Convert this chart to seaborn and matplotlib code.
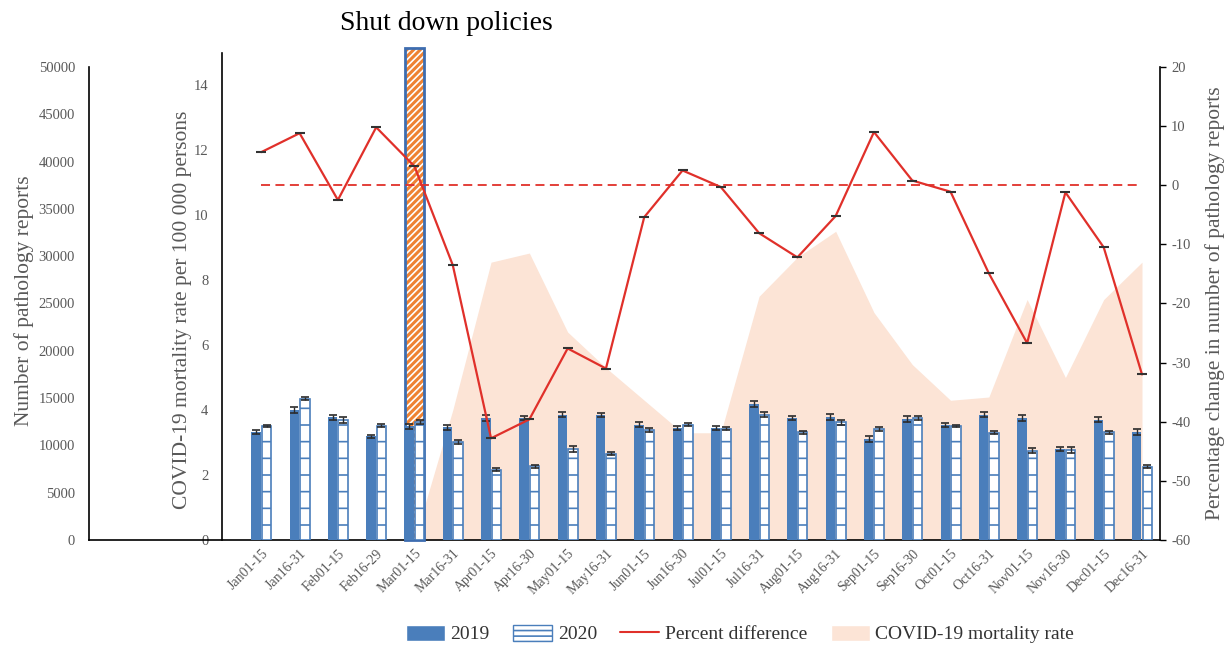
import numpy as np
import pandas as pd
import matplotlib.pyplot as plt
from matplotlib.patches import Patch
from matplotlib.lines import Line2D
import seaborn as sns

periods = ["Jan01-15", "Jan16-31", "Feb01-15", "Feb16-29", "Mar01-15", "Mar16-31",
           "Apr01-15", "Apr16-30", "May01-15", "May16-31", "Jun01-15", "Jun16-30",
           "Jul01-15", "Jul16-31", "Aug01-15", "Aug16-31", "Sep01-15", "Sep16-30",
           "Oct01-15", "Oct16-31", "Nov01-15", "Nov16-30", "Dec01-15", "Dec16-31"]

# pathology reports per half-month
reports_2019 = [11400, 13750, 12950, 10950, 12000, 11900, 12900, 12900, 13250, 13250, 12200, 11800,
                11800, 14400, 12900, 13000, 10700, 12800, 12150, 13250, 12900, 9600, 12700, 11400]
reports_2020 = [12050, 14950, 12700, 12100, 12500, 10400, 7450, 7780, 9600, 9120, 11650, 12200,
                11780, 13250, 11400, 12450, 11700, 12900, 12050, 11350, 9450, 9520, 11400, 7750]
err_2019 = [200, 300, 300, 150, 250, 300, 300, 250, 300, 200, 250, 200,
            200, 300, 250, 300, 300, 300, 250, 300, 300, 200, 250, 300]
err_2020 = [150, 200, 300, 150, 200, 200, 150, 150, 300, 150, 200, 200,
            200, 300, 150, 250, 200, 200, 150, 150, 300, 300, 150, 150]

# percent difference 2020 vs 2019
percent_diff = [5.6, 8.8, -2.5, 9.8, 3.2, -13.5, -42.8, -39.6, -27.6, -31.0, -5.4, 2.5,
                -0.3, -8.1, -12.2, -5.2, 9.0, 0.8, -1.1, -14.9, -26.7, -1.2, -10.5, -32.0]

# COVID-19 mortality rate per 100 000 persons
mortality = [np.nan, np.nan, np.nan, np.nan, 0.0, 4.0, 8.55, 8.83, 6.4, 5.3, 4.3, 3.3,
             3.3, 7.5, 8.7, 9.5, 7.0, 5.4, 4.3, 4.4, 7.4, 5.0, 7.4, 8.55]

shutdown_period = "Mar01-15"

sns.set_theme(style="white")
plt.rcParams["font.family"] = ["Liberation Serif", "DejaVu Serif"]
plt.rcParams["hatch.linewidth"] = 1.2
plt.rcParams["axes.unicode_minus"] = False

blue = "#4A7EBB"
red = "#E0302A"
peach = "#FCE4D6"
orange = "#EE8232"
grey = "#595959"

df = pd.DataFrame({
    "period": periods * 2,
    "year": ["2019"] * len(periods) + ["2020"] * len(periods),
    "reports": reports_2019 + reports_2020,
})
x = np.arange(len(periods))

fig, ax_mort = plt.subplots(figsize=(12.31, 6.48), dpi=100)
fig.subplots_adjust(left=89 / 1231, right=1160 / 1231, bottom=108 / 648, top=600 / 648)
ax_rep = ax_mort.twinx()
ax_pct = ax_mort.twinx()

# mortality area + shut down marker (back layer)
mort_top = 15.14
ax_mort.set_ylim(0, mort_top)
ax_mort.fill_between(x, mortality, color=peach, lw=0, zorder=1)
s = periods.index(shutdown_period)
ax_mort.bar(s, mort_top, width=0.5, color=orange, edgecolor="white", hatch="/////", lw=0, zorder=2)
ax_mort.bar(s, mort_top, width=0.5, fill=False, edgecolor="#3D6DB0", lw=2, zorder=3, clip_on=False)

# pathology report bars
sns.barplot(data=df, x="period", y="reports", hue="year", order=periods,
            hue_order=["2019", "2020"], palette=[blue, "white"], saturation=1,
            width=0.55, gap=0.1, errorbar=None, legend=False, ax=ax_rep)
bar_sets = list(ax_rep.containers)
for b in bar_sets[0]:
    b.set_linewidth(0)
for b in bar_sets[1]:
    b.set_edgecolor(blue)
    b.set_hatch("-")
    b.set_linewidth(1.2)
for bars, err in zip(bar_sets, [err_2019, err_2020]):
    xs = [b.get_x() + b.get_width() / 2 for b in bars]
    hs = [b.get_height() for b in bars]
    ax_rep.errorbar(xs, hs, yerr=err, fmt="none", ecolor="#2b2b2b", elinewidth=1, capsize=3, capthick=1.2)
ax_rep.set_xlabel("")
ax_rep.set_ylabel("")
ax_rep.set_ylim(0, 52008)

# percent difference line
sns.lineplot(x=x, y=percent_diff, ax=ax_pct, color=red, lw=1.6, marker="_", markersize=7,
             markeredgecolor="#333333", markeredgewidth=1.5)
ax_pct.hlines(0, x[0], x[-1], colors=red, linestyles=(0, (5, 3)), lw=1.3)
ax_pct.set_ylim(-60, 23.21)

# x axis
ax_mort.set_xlim(-4.50, 23.47)
ax_mort.set_xticks(x)
ax_mort.set_xticklabels(periods, rotation=45, ha="right", rotation_mode="anchor")
ax_mort.tick_params(axis="x", length=0, pad=5, labelsize=10, labelcolor=grey)

# spines
for ax in (ax_mort, ax_rep, ax_pct):
    for sp in ax.spines.values():
        sp.set_visible(False)
        sp.set_color("black")
        sp.set_linewidth(1.2)

ax_mort.spines["bottom"].set_visible(True)
ax_mort.spines["left"].set_visible(True)
ax_mort.spines["left"].set_position(("data", -1.02))
ax_mort.spines["left"].set_bounds(0, 15)
ax_mort.set_yticks(range(0, 15, 2))
ax_mort.tick_params(axis="y", left=False, length=0, pad=10, labelsize=10.5, labelcolor=grey)

ax_rep.spines["left"].set_visible(True)
ax_rep.spines["left"].set_bounds(0, 50000)
ax_rep.yaxis.tick_left()
ax_rep.set_yticks(range(0, 50001, 5000))
ax_rep.tick_params(axis="y", left=False, right=False, length=0, pad=10, labelsize=10.5, labelcolor=grey)

ax_pct.spines["right"].set_visible(True)
ax_pct.spines["right"].set_bounds(-60, 20)
ax_pct.set_yticks(range(-60, 21, 10))
ax_pct.tick_params(axis="y", right=True, left=False, length=4, width=1, direction="out",
                   color="black", pad=4, labelsize=10.5, labelcolor=grey)
ax_pct.set_xlabel("")

# axis titles
fig.text(24 / 1231, 1 - 301 / 648, "Number of pathology reports", rotation=90,
         ha="center", va="center", fontsize=15.5, color=grey)
fig.text(182 / 1231, 1 - 310 / 648, "COVID-19 mortality rate per 100 000 persons", rotation=90,
         ha="center", va="center", fontsize=15.5, color=grey)
fig.text(1215 / 1231, 1 - 303 / 648, "Percentage change in number of pathology reports", rotation=90,
         ha="center", va="center", fontsize=15.5, color=grey)
fig.text(446 / 1231, 1 - 24 / 648, "Shut down policies", ha="center", va="center",
         fontsize=20, color="black")

handles = [Patch(facecolor=blue),
           Patch(facecolor="white", edgecolor=blue, hatch="---"),
           Line2D([], [], color=red, lw=1.5),
           Patch(facecolor=peach)]
labels = ["2019", "2020", "Percent difference", "COVID-19 mortality rate"]
fig.legend(handles, labels, loc="center", bbox_to_anchor=(740 / 1231, 1 - 634 / 648), ncol=4,
           frameon=False, fontsize=14, handlelength=2.0, handleheight=0.9,
           columnspacing=1.2, handletextpad=0.3, labelcolor="#333333")

fig.savefig("out.png", dpi=100)
